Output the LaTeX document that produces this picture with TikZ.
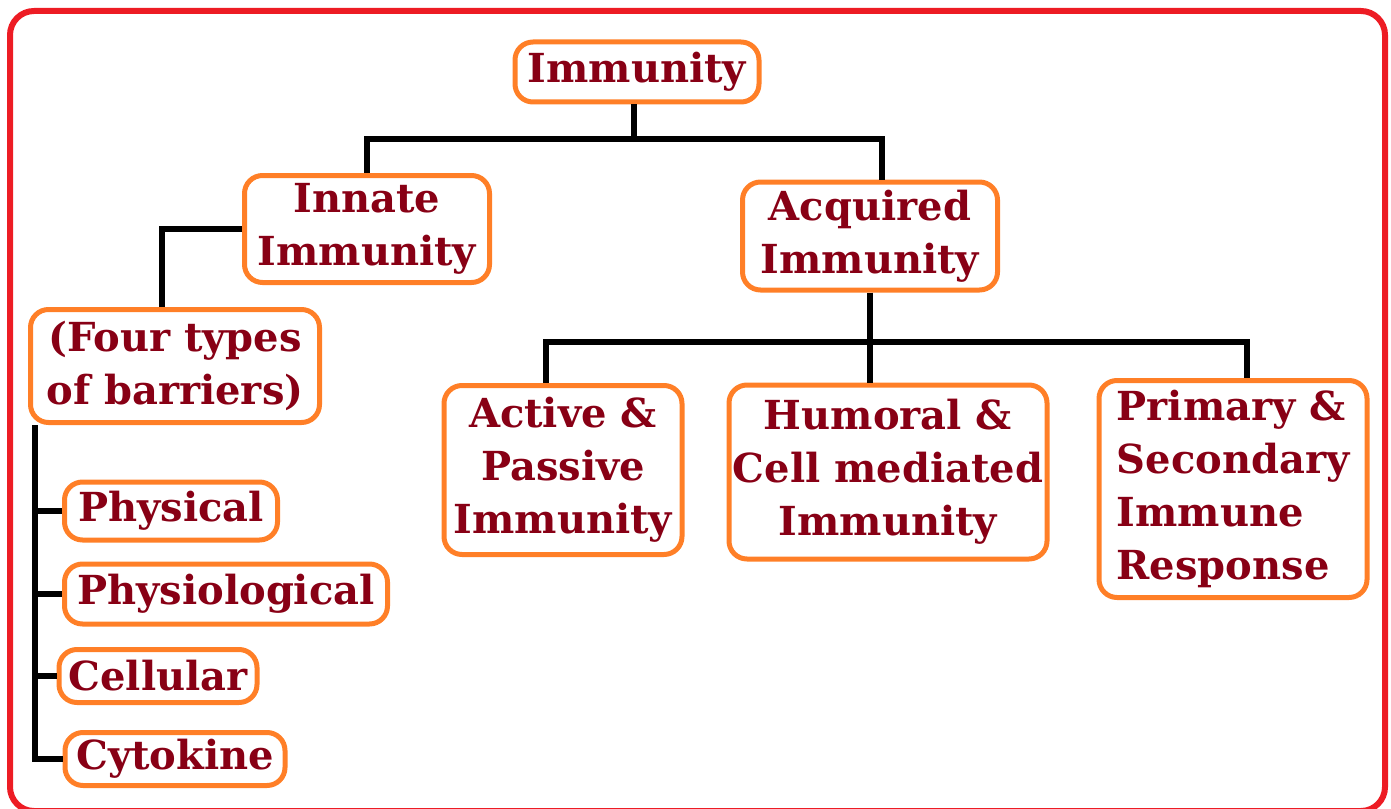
\documentclass[tikz,border=0pt]{standalone}
\usepackage{fontspec}
\setmainfont{DejaVu Serif}
\definecolor{paintorange}{RGB}{255,127,39}
\definecolor{paintred}{RGB}{237,28,36}
\definecolor{darkred}{RGB}{136,0,21}
\tikzset{
  box/.style={draw=paintorange,line width=2.5pt,rounded corners=9pt,text=darkred,align=center,
    inner sep=0pt,font=\fontsize{20}{26.5}\selectfont\bfseries},
  link/.style={draw=black,line width=2.75pt},
}
\begin{document}
\begin{tikzpicture}[x=0.5pt,y=-0.5pt]
  \useasboundingbox (0,0) rectangle (1391,808);
  \draw[paintred,line width=3pt,rounded corners=12pt] (10,11) rectangle (1385,811);

  \node[box,minimum width=122pt,minimum height=30pt] (immunity) at (637,72) {Immunity};
  \node[box,minimum width=122.5pt,minimum height=53.5pt] (innate) at (367,229) {Innate\\Immunity};
  \node[box,minimum width=127.5pt,minimum height=54pt] (acquired) at (870,236) {Acquired\\Immunity};
  \node[box,minimum width=144.5pt,minimum height=56.5pt] (fourtypes) at (175,366) {(Four types\\of barriers)};
  \node[box,minimum width=106.5pt,minimum height=29pt] (physical) at (171,511) {Physical};
  \node[box,minimum width=161.5pt,minimum height=30pt] (physiol) at (226,594) {Physiological};
  \node[box,minimum width=99pt,minimum height=26.5pt] (cellular) at (158,676) {Cellular};
  \node[box,minimum width=110pt,minimum height=26.5pt] (cytokine) at (175,759) {Cytokine};
  \node[box,minimum width=119pt,minimum height=84.5pt] (active) at (563,470) {Active \&\\Passive\\Immunity};
  \node[box,minimum width=159pt,minimum height=87pt] (humoral) at (888,472) {Humoral \&\\Cell mediated\\Immunity};
  \node[box,align=left,minimum width=134pt,minimum height=108.5pt] (primary) at (1233,489) {Primary \&\\Secondary\\Immune\\Response};

  \coordinate (bar1) at (634,139);
  \coordinate (bar2) at (869,342);
  \coordinate (spine) at (35,425);
  \draw[link] ([xshift=-1.5pt]immunity.south) -- (bar1);
  \draw[link] (innate.north) |- (bar1) -| ([xshift=6pt]acquired.north);
  \draw[link] (innate.west) -| ([xshift=-6.5pt]fourtypes.north);
  \draw[link] (spine) |- (cytokine.west);
  \foreach \b in {physical,physiol,cellular}
    \draw[link] (spine |- \b.west) -- (\b.west);
  \draw[link] (acquired.south) -- (acquired.south |- humoral.north);
  \draw[link] ([xshift=-8.5pt]active.north) |- (bar2) -| ([xshift=7pt]primary.north);
\end{tikzpicture}
\end{document}
